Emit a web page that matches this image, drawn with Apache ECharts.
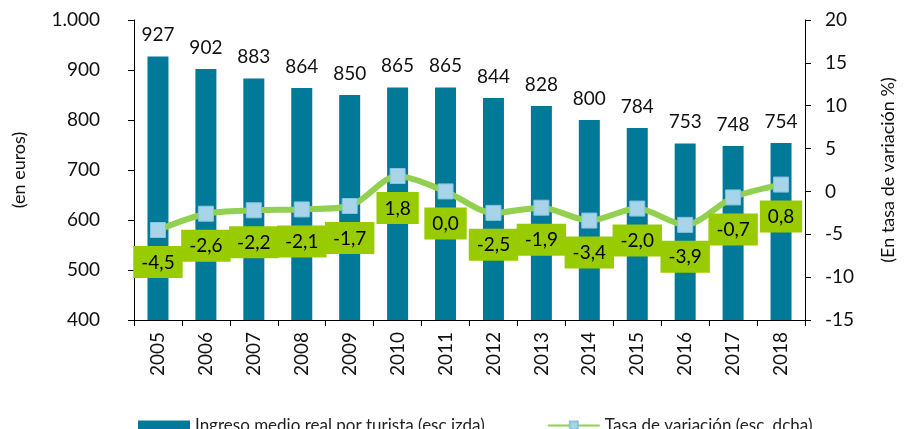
<!DOCTYPE html>
<html>
<head>
<meta charset="utf-8">
<script src="https://cdn.jsdelivr.net/npm/echarts@6/dist/echarts.min.js"></script>
<style>
  html, body { margin: 0; padding: 0; background: #fff; }
  #chart { width: 905px; height: 429px; }
</style>
</head>
<body>
<div id="chart"></div>
<script>
// 数据
const years = ['2005', '2006', '2007', '2008', '2009', '2010', '2011', '2012', '2013', '2014', '2015', '2016', '2017', '2018']
const ingresoMedio = [927, 902, 883, 864, 850, 865, 865, 844, 828, 800, 784, 753, 748, 754]
const tasaVariacion = [-4.5, -2.6, -2.2, -2.1, -1.7, 1.8, 0.0, -2.5, -1.9, -3.4, -2.0, -3.9, -0.7, 0.8]

const FONT = 'Lato'

const chart = echarts.init(document.getElementById('chart'))

// 千位分隔符用点
const fmtThousands = v => String(v).replace(/\B(?=(\d{3})+(?!\d))/g, '.')

const option = {
  animation: false,
  textStyle: { fontFamily: FONT },
  grid: { left: 134, right: 90, top: 20, bottom: 109 },
  legend: {
    left: 133,
    top: 412,
    itemGap: 62,
    itemWidth: 52,
    itemHeight: 10,
    textStyle: { fontFamily: FONT, fontSize: 17, color: '#222' },
    data: [
      { name: 'Ingreso medio real por turista (esc izda)', icon: 'rect' },
      { name: 'Tasa de variación (esc. dcha)' }
    ]
  },
  xAxis: {
    type: 'category',
    data: years,
    axisLine: { onZero: false, lineStyle: { color: '#000', width: 1 } },
    axisTick: { show: true, length: 6, lineStyle: { color: '#000' } },
    axisLabel: { rotate: 90, fontSize: 19, color: '#111', fontFamily: FONT, margin: 12 }
  },
  yAxis: [
    {
      type: 'value',
      min: 400,
      max: 1000,
      interval: 100,
      name: '(en euros)',
      nameLocation: 'middle',
      nameRotate: 90,
      nameGap: 106,
      nameTextStyle: { fontSize: 18, color: '#111', fontFamily: FONT },
      splitLine: { show: false },
      axisLine: { show: true, lineStyle: { color: '#000' } },
      axisTick: { show: true, length: 6, lineStyle: { color: '#000' } },
      axisLabel: { fontSize: 19, color: '#111', fontFamily: FONT, margin: 34, formatter: fmtThousands }
    },
    {
      type: 'value',
      min: -15,
      max: 20,
      interval: 5,
      name: '(En tasa de variación %)',
      nameLocation: 'middle',
      nameRotate: 90,
      nameGap: 74,
      nameTextStyle: { fontSize: 18, color: '#111', fontFamily: FONT },
      splitLine: { show: false },
      axisLine: { show: true, lineStyle: { color: '#000' } },
      axisTick: { show: true, length: 6, lineStyle: { color: '#000' } },
      axisLabel: { fontSize: 19, color: '#111', fontFamily: FONT, margin: 20 }
    }
  ],
  series: [
    {
      name: 'Ingreso medio real por turista (esc izda)',
      type: 'bar',
      yAxisIndex: 0,
      barWidth: 21,
      data: ingresoMedio,
      itemStyle: { color: '#017a99' },
      label: {
        show: true,
        position: 'top',
        distance: 12,
        fontSize: 19,
        color: '#111',
        fontFamily: FONT
      }
    },
    {
      name: 'Tasa de variación (esc. dcha)',
      type: 'line',
      yAxisIndex: 1,
      smooth: 0.3,
      data: tasaVariacion,
      symbol: 'rect',
      symbolSize: 15,
      lineStyle: { color: '#92d050', width: 6 },
      itemStyle: { color: '#a8d4ea', borderColor: '#8cc2dc', borderWidth: 1 },
      z: 5,
      label: {
        show: true,
        position: 'bottom',
        distance: 8,
        fontSize: 19,
        color: '#000',
        fontFamily: FONT,
        backgroundColor: '#99cc00',
        padding: [7, 8, 6, 8],
        formatter: p => p.value.toFixed(1).replace('.', ',')
      }
    }
  ]
}

chart.setOption(option)
</script>
</body>
</html>
